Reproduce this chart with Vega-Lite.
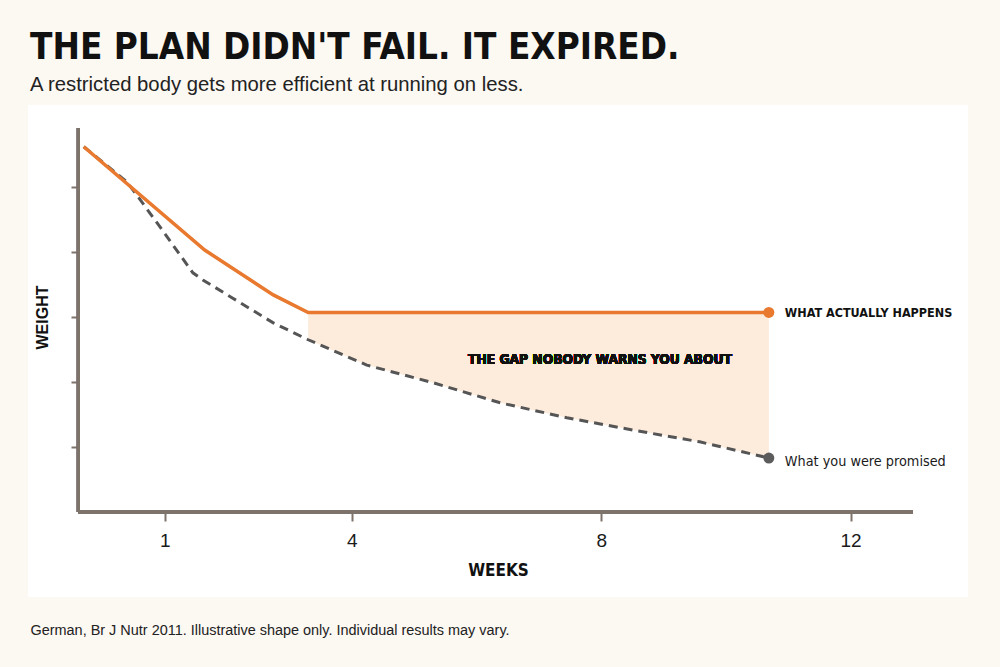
{
  "$schema": "https://vega.github.io/schema/vega-lite/v6.json",
  "width": 940,
  "height": 492,
  "autosize": {"type": "none"},
  "padding": {"left": 28, "top": 105, "right": 32, "bottom": 70},
  "background": "#FCF8F2",
  "config": {
    "view": {"fill": "#FFFFFF", "stroke": null},
    "font": "Liberation Sans",
    "axisX": {"grid": false, "domain": false, "tickColor": "#7D736B", "tickWidth": 2, "tickSize": 9},
    "axisY": {"grid": false, "domain": false, "tickColor": "#7D736B", "tickWidth": 2, "tickSize": 7}
  },
  "title": {
    "text": "THE PLAN DIDN'T FAIL. IT EXPIRED.",
    "subtitle": "A restricted body gets more efficient at running on less.",
    "anchor": "start",
    "dx": 2,
    "offset": 10,
    "font": "DejaVu Sans Condensed, Liberation Sans, sans-serif",
    "fontSize": 36.5,
    "fontWeight": "bold",
    "color": "#111111",
    "subtitleFont": "Liberation Sans",
    "subtitleFontSize": 20.3,
    "subtitleColor": "#222222",
    "subtitlePadding": 8
  },
  "datasets": {
    "weight": [
      {"series": "actual", "week": -0.3, "weight": 5.62},
      {"series": "actual", "week": 1.64, "weight": 4.03},
      {"series": "actual", "week": 2.74, "weight": 3.34},
      {"series": "actual", "week": 3.3, "weight": 3.07},
      {"series": "actual", "week": 10.69, "weight": 3.07},
      {"series": "promised", "week": -0.3, "weight": 5.62},
      {"series": "promised", "week": 0.39, "weight": 5.08},
      {"series": "promised", "week": 0.57, "weight": 4.85},
      {"series": "promised", "week": 0.92, "weight": 4.39},
      {"series": "promised", "week": 1.45, "weight": 3.68},
      {"series": "promised", "week": 1.61, "weight": 3.57},
      {"series": "promised", "week": 2.09, "weight": 3.29},
      {"series": "promised", "week": 2.74, "weight": 2.91},
      {"series": "promised", "week": 3.3, "weight": 2.65},
      {"series": "promised", "week": 4.24, "weight": 2.26},
      {"series": "promised", "week": 5.3, "weight": 1.99},
      {"series": "promised", "week": 6.38, "weight": 1.68},
      {"series": "promised", "week": 7.45, "weight": 1.45},
      {"series": "promised", "week": 8.51, "weight": 1.26},
      {"series": "promised", "week": 9.58, "weight": 1.08},
      {"series": "promised", "week": 10.69, "weight": 0.83}
    ]
  },
  "data": {"name": "weight"},
  "layer": [
    {
      "layer": [
        {
          "transform": [
            {"filter": "datum.series == 'promised' && datum.week >= 3.3"}
          ],
          "mark": {"type": "area", "color": "#FDEBDC", "opacity": 1},
          "encoding": {
            "x": {
              "field": "week",
              "type": "quantitative",
              "scale": {"domain": [-1.195, 13.885], "nice": false, "zero": false},
              "axis": {
                "orient": "bottom",
                "offset": -85,
                "values": [1, 4, 8, 12],
                "format": "d",
                "labelFont": "Liberation Sans",
                "labelFontSize": 19,
                "labelColor": "#1A1A1A",
                "labelPadding": 10,
                "title": "WEEKS",
                "titleFont": "DejaVu Sans Condensed, Liberation Sans, sans-serif",
                "titleFontSize": 17,
                "titleFontWeight": "bold",
                "titleColor": "#111111",
                "titlePadding": 12
              }
            },
            "y": {
              "field": "weight",
              "type": "quantitative",
              "scale": {"domain": [-1.308, 6.262], "nice": false, "zero": false},
              "axis": {
                "orient": "left",
                "offset": -50,
                "values": [1, 2, 3, 4, 5],
                "labels": false,
                "title": "WEIGHT",
                "titleFont": "Liberation Sans",
                "titleFontSize": 16,
                "titleFontWeight": "bold",
                "titleColor": "#111111",
                "titleAngle": -90,
                "titleAlign": "center",
                "titleBaseline": "middle",
                "titleX": -36,
                "titleY": 212
              }
            },
            "y2": {"datum": 3.07}
          }
        },
        {
          "mark": {"type": "rule", "color": "#7D736B", "strokeWidth": 2.5},
          "encoding": {
            "x": {"datum": -0.39},
            "y": {"datum": 0},
            "y2": {"datum": 5.91}
          }
        },
        {
          "mark": {"type": "rule", "color": "#7D736B", "strokeWidth": 2.5},
          "encoding": {
            "y": {"datum": 0},
            "x": {"datum": -0.39},
            "x2": {"datum": 13.0}
          }
        },
        {
          "transform": [{"filter": "datum.series == 'promised'"}],
          "mark": {"type": "line", "color": "#555555", "strokeWidth": 3, "strokeDash": [9, 6]},
          "encoding": {
            "x": {"field": "week", "type": "quantitative"},
            "y": {"field": "weight", "type": "quantitative"}
          }
        },
        {
          "transform": [{"filter": "datum.series == 'actual'"}],
          "mark": {"type": "line", "color": "#E8792E", "strokeWidth": 3.5},
          "encoding": {
            "x": {"field": "week", "type": "quantitative"},
            "y": {"field": "weight", "type": "quantitative"}
          }
        },
        {
          "transform": [
            {"joinaggregate": [{"op": "max", "field": "week", "as": "last"}], "groupby": ["series"]},
            {"filter": "datum.week == datum.last"}
          ],
          "mark": {"type": "circle", "size": 120, "opacity": 1},
          "encoding": {
            "x": {"field": "week", "type": "quantitative"},
            "y": {"field": "weight", "type": "quantitative"},
            "color": {
              "field": "series",
              "type": "nominal",
              "scale": {"domain": ["actual", "promised"], "range": ["#E8792E", "#5C5C5C"]},
              "legend": null
            }
          }
        },
        {
          "transform": [
            {"filter": "datum.series == 'actual'"},
            {"joinaggregate": [{"op": "max", "field": "week", "as": "last"}]},
            {"filter": "datum.week == datum.last"}
          ],
          "mark": {
            "type": "text",
            "align": "left",
            "baseline": "middle",
            "dx": 16,
            "dy": 1,
            "font": "DejaVu Sans Condensed, Liberation Sans, sans-serif",
            "fontSize": 12.5,
            "fontWeight": "bold",
            "color": "#111111"
          },
          "encoding": {
            "x": {"field": "week", "type": "quantitative"},
            "y": {"field": "weight", "type": "quantitative"},
            "text": {"value": "WHAT ACTUALLY HAPPENS"}
          }
        },
        {
          "transform": [
            {"filter": "datum.series == 'promised'"},
            {"joinaggregate": [{"op": "max", "field": "week", "as": "last"}]},
            {"filter": "datum.week == datum.last"}
          ],
          "mark": {
            "type": "text",
            "align": "left",
            "baseline": "middle",
            "dx": 16,
            "dy": 4,
            "font": "DejaVu Sans Condensed, Liberation Sans, sans-serif",
            "fontSize": 14.3,
            "color": "#1A1A1A"
          },
          "encoding": {
            "x": {"field": "week", "type": "quantitative"},
            "y": {"field": "weight", "type": "quantitative"},
            "text": {"value": "What you were promised"}
          }
        },
        {
          "mark": {
            "type": "text",
            "align": "center",
            "baseline": "middle",
            "font": "DejaVu Sans Condensed, Liberation Sans, sans-serif",
            "fontSize": 13.7,
            "fontWeight": "bold",
            "color": "#111111"
          },
          "encoding": {
            "x": {"datum": 7.98},
            "y": {"datum": 2.34},
            "text": {"value": "THE GAP NOBODY WARNS YOU ABOUT"}
          }
        }
      ]
    },
    {
      "transform": [{"filter": "datum.series == 'actual'"}],
      "mark": {"type": "point", "opacity": 0},
      "encoding": {
        "x": {
          "field": "week",
          "type": "quantitative",
          "axis": {
            "orient": "bottom",
            "offset": 0,
            "labels": false,
            "ticks": false,
            "domain": false,
            "title": "German, Br J Nutr 2011. Illustrative shape only. Individual results may vary.",
            "titleFont": "Liberation Sans",
            "titleFontSize": 14.45,
            "titleFontWeight": "normal",
            "titleColor": "#222222",
            "titleAnchor": "start",
            "titleAlign": "left",
            "titleBaseline": "alphabetic",
            "titleX": 2,
            "titleY": 37
          }
        }
      }
    }
  ],
  "resolve": {"scale": {"x": "independent"}, "axis": {"x": "independent"}}
}
